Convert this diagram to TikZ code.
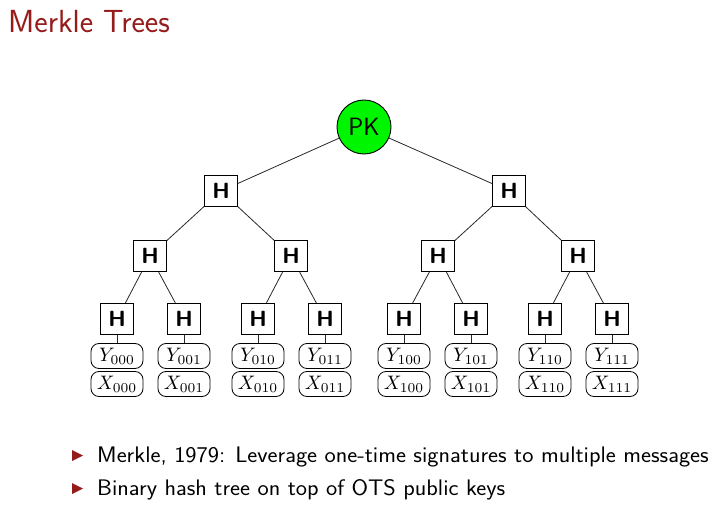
\documentclass[tikz,border=0pt]{standalone}
\usepackage{fontspec}
\definecolor{titlered}{RGB}{150,28,28}
\definecolor{pkgreen}{RGB}{0,245,0}
\definecolor{edgegray}{RGB}{40,40,40}
\newcommand{\keytext}[1]{\scalebox{1.95}{$#1$}}
\newcommand{\bultext}[1]{\scalebox{1.06}[1]{#1}}
\tikzset{
  hbox/.style={draw, line width=0.9pt, fill=white, minimum width=33pt, minimum height=31pt, inner sep=0pt, font=\fontsize{22}{24}\selectfont\sffamily\bfseries},
  pkcirc/.style={draw, circle, line width=0.9pt, fill=pkgreen, minimum size=54pt, inner sep=0pt, font=\fontsize{25}{28}\selectfont\sffamily},
  keybox/.style={draw, line width=0.8pt, rounded corners=8pt, minimum width=52pt, minimum height=25pt, inner sep=0pt},
  edge/.style={draw=edgegray, line width=0.8pt},
  bullettxt/.style={anchor=base west, inner sep=0pt, font=\fontsize{22.5}{24}\selectfont\sffamily},
  tri/.style={fill=titlered}
}
\begin{document}
\begin{tikzpicture}[x=1pt,y=-1pt]
\useasboundingbox (0,0) rectangle (720,505);
\node[anchor=base west, inner sep=0pt, text=titlered, font=\fontsize{32}{36}\selectfont\sffamily] (title) at (8,33) {Merkle Trees};

\node[pkcirc] (pk) at (364,127) {PK};
\node[hbox] (h0) at (221,191) {H};
\node[hbox] (h1) at (509,191) {H};
\node[hbox] (h00) at (150,256) {H};
\node[hbox] (h01) at (291,256) {H};
\node[hbox] (h10) at (438,256) {H};
\node[hbox] (h11) at (578,256) {H};
\foreach \n/\x in {000/117,001/184,010/258,011/325,100/404,101/471,110/545,111/612}{
  \node[hbox] (h\n) at (\x,319) {H};
  \node[keybox] (y\n) at (\x,356) {\keytext{Y_{\n}}};
  \node[keybox] (x\n) at (\x,384) {\keytext{X_{\n}}};
  \draw[edge] (h\n) -- (y\n);
}
\draw[edge] (pk) -- (h0);
\draw[edge] (pk) -- (h1);
\draw[edge] (h0) -- (h00);
\draw[edge] (h0) -- (h01);
\draw[edge] (h1) -- (h10);
\draw[edge] (h1) -- (h11);
\draw[edge] (h00) -- (h000);
\draw[edge] (h00) -- (h001);
\draw[edge] (h01) -- (h010);
\draw[edge] (h01) -- (h011);
\draw[edge] (h10) -- (h100);
\draw[edge] (h10) -- (h101);
\draw[edge] (h11) -- (h110);
\draw[edge] (h11) -- (h111);

\fill[tri] (72,450) -- (83,455.5) -- (72,461) -- cycle;
\node[bullettxt] (b1) at (97,462) {\bultext{Merkle, 1979: Leverage one-time signatures to multiple messages}};
\fill[tri] (72,483) -- (83,488.5) -- (72,494) -- cycle;
\node[bullettxt] (b2) at (97,495) {\bultext{Binary hash tree on top of OTS public keys}};
\end{tikzpicture}
\end{document}
